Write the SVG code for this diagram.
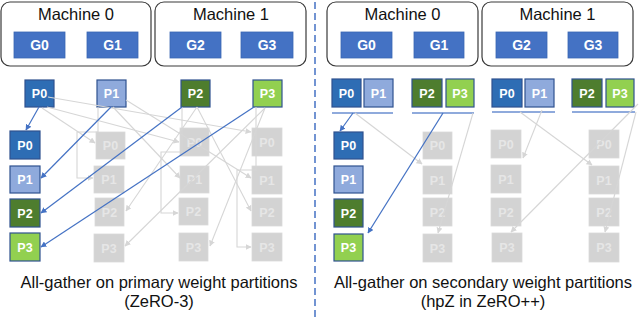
<svg xmlns="http://www.w3.org/2000/svg" width="640" height="317" viewBox="0 0 640 317">
<defs>
<style>
.mach{fill:#fff;stroke:#3a3a3a;stroke-width:1.2}
.mlab{font-family:"Liberation Sans",Arial,sans-serif;font-size:16.5px;fill:#111;text-anchor:middle}
.g{fill:#4472C4;stroke:#3b66b3;stroke-width:0.8}
.glab{font-family:"Liberation Sans",Arial,sans-serif;font-size:14px;font-weight:bold;fill:#fff;text-anchor:middle}
.plab{font-family:"Liberation Sans",Arial,sans-serif;font-size:12.5px;font-weight:bold;fill:#fff;text-anchor:middle}
.glab2{font-family:"Liberation Sans",Arial,sans-serif;font-size:12.5px;font-weight:bold;fill:#e6e6e6;text-anchor:middle}
.p0{fill:#2E6DB4;stroke:#2F528F;stroke-width:1.2}
.p1{fill:#8FAADC;stroke:#2F528F;stroke-width:1.2}
.p2{fill:#4E7D2E;stroke:#2F528F;stroke-width:1.2}
.p3{fill:#92D050;stroke:#2F528F;stroke-width:1.2}
.gr{fill:#d3d3d3;stroke:#dadada;stroke-width:0.8}
.gl{fill:none;stroke:#d6d6d6;stroke-width:1.1;marker-end:url(#ag)}
.bl{fill:none;stroke:#4472C4;stroke-width:1.2;marker-end:url(#ab)}
.ul{stroke:#8FAADC;stroke-width:2}
.cap{font-family:"Liberation Sans",Arial,sans-serif;font-size:16.5px;fill:#111;text-anchor:middle}
</style>
<marker id="ag" viewBox="0 0 10 10" refX="9" refY="5" markerWidth="6" markerHeight="6" orient="auto" markerUnits="userSpaceOnUse"><path d="M0,0L10,5L0,10z" fill="#d6d6d6"/></marker>
<marker id="ab" viewBox="0 0 10 10" refX="9" refY="5" markerWidth="6" markerHeight="6" orient="auto" markerUnits="userSpaceOnUse"><path d="M0,0L10,5L0,10z" fill="#4472C4"/></marker>
</defs>
<rect width="640" height="317" fill="#fff"/>
<line x1="315" y1="2" x2="315" y2="317" stroke="#4472C4" stroke-width="1.5" stroke-dasharray="7,4"/>

<!-- Left half: machines -->
<g id="machine0-left"><rect class="mach" x="1" y="2" width="150" height="64" rx="9"/><text class="mlab" x="76" y="20">Machine 0</text></g>
<g id="machine1-left"><rect class="mach" x="155" y="2" width="151" height="64" rx="9"/><text class="mlab" x="231" y="20">Machine 1</text></g>
<g id="g0-left"><rect class="g" x="14" y="32" width="51" height="26"/><text class="glab" x="39.5" y="50">G0</text></g>
<g id="g1-left"><rect class="g" x="87" y="32" width="51" height="26"/><text class="glab" x="112.5" y="50">G1</text></g>
<g id="g2-left"><rect class="g" x="170" y="32" width="51" height="26"/><text class="glab" x="195.5" y="50">G2</text></g>
<g id="g3-left"><rect class="g" x="241" y="32" width="52" height="26"/><text class="glab" x="267" y="50">G3</text></g>

<!-- Left half: top partitions -->
<g id="lt-p0"><rect class="p0" x="25" y="80" width="29" height="27"/><text class="plab" x="39.5" y="98">P0</text></g>
<g id="lt-p1"><rect class="p1" x="97" y="80" width="29" height="27"/><text class="plab" x="111.5" y="98">P1</text></g>
<g id="lt-p2"><rect class="p2" x="181" y="80" width="29" height="27"/><text class="plab" x="195.5" y="98">P2</text></g>
<g id="lt-p3"><rect class="p3" x="253" y="80" width="29" height="27"/><text class="plab" x="267.5" y="98">P3</text></g>

<!-- Left half: gathered column -->
<g id="lc-p0"><rect class="p0" x="10" y="131" width="30" height="28"/><text class="plab" x="25" y="149.5">P0</text></g>
<g id="lc-p1"><rect class="p1" x="10" y="166" width="30" height="27"/><text class="plab" x="25" y="184">P1</text></g>
<g id="lc-p2"><rect class="p2" x="10" y="199" width="30" height="28"/><text class="plab" x="25" y="217.5">P2</text></g>
<g id="lc-p3"><rect class="p3" x="10" y="233" width="30" height="28"/><text class="plab" x="25" y="251.5">P3</text></g>

<!-- Left half: grey columns -->
<g id="l1-p0"><rect class="gr" x="96" y="132" width="29" height="27"/><text class="glab2" x="110.5" y="150">P0</text></g>
<g id="l1-p1"><rect class="gr" x="94" y="166" width="30" height="27"/><text class="glab2" x="109" y="184">P1</text></g>
<g id="l1-p2"><rect class="gr" x="95" y="198" width="29" height="28"/><text class="glab2" x="109.5" y="216.5">P2</text></g>
<g id="l1-p3"><rect class="gr" x="94" y="234" width="30" height="28"/><text class="glab2" x="109" y="252.5">P3</text></g>
<g id="l2-p0"><rect class="gr" x="180" y="128" width="29" height="28"/><text class="glab2" x="194.5" y="146.5">P0</text></g>
<g id="l2-p1"><rect class="gr" x="180" y="166" width="29" height="27"/><text class="glab2" x="194.5" y="184">P1</text></g>
<g id="l2-p2"><rect class="gr" x="179" y="198" width="29" height="27"/><text class="glab2" x="193.5" y="216">P2</text></g>
<g id="l2-p3"><rect class="gr" x="179" y="233" width="29" height="28"/><text class="glab2" x="193.5" y="251.5">P3</text></g>
<g id="l3-p0"><rect class="gr" x="252" y="128" width="30" height="28"/><text class="glab2" x="267" y="146.5">P0</text></g>
<g id="l3-p1"><rect class="gr" x="252" y="166" width="30" height="28"/><text class="glab2" x="267" y="184.5">P1</text></g>
<g id="l3-p2"><rect class="gr" x="252" y="198" width="30" height="28"/><text class="glab2" x="267" y="216.5">P2</text></g>
<g id="l3-p3"><rect class="gr" x="252" y="233" width="30" height="28"/><text class="glab2" x="267" y="251.5">P3</text></g>

<!-- Right half: machines -->
<g id="machine0-right"><rect class="mach" x="327" y="2" width="151" height="64" rx="9"/><text class="mlab" x="402.5" y="20">Machine 0</text></g>
<g id="machine1-right"><rect class="mach" x="482" y="2" width="151" height="64" rx="9"/><text class="mlab" x="557.5" y="20">Machine 1</text></g>
<g id="g0-right"><rect class="g" x="341" y="32" width="51" height="26"/><text class="glab" x="366.5" y="50">G0</text></g>
<g id="g1-right"><rect class="g" x="414" y="32" width="50" height="26"/><text class="glab" x="439" y="50">G1</text></g>
<g id="g2-right"><rect class="g" x="496" y="32" width="51" height="26"/><text class="glab" x="521.5" y="50">G2</text></g>
<g id="g3-right"><rect class="g" x="568" y="32" width="50" height="26"/><text class="glab" x="593" y="50">G3</text></g>

<!-- Right half: top secondary partitions -->
<g id="rt-a"><rect class="p0" x="332" y="79" width="29" height="28"/><text class="plab" x="346.5" y="97.5">P0</text><rect class="p1" x="364" y="79" width="29" height="28"/><text class="plab" x="378.5" y="97.5">P1</text><line class="ul" x1="332" y1="113" x2="393" y2="113"/></g>
<g id="rt-b"><rect class="p2" x="412" y="79" width="30" height="28"/><text class="plab" x="427" y="97.5">P2</text><rect class="p3" x="446" y="79" width="28" height="28"/><text class="plab" x="460" y="97.5">P3</text><line class="ul" x1="412" y1="113" x2="474" y2="113"/></g>
<g id="rt-c"><rect class="p0" x="492" y="79" width="30" height="28"/><text class="plab" x="507" y="97.5">P0</text><rect class="p1" x="525" y="79" width="29" height="28"/><text class="plab" x="539.5" y="97.5">P1</text><line class="ul" x1="492" y1="112" x2="555" y2="112"/></g>
<g id="rt-d"><rect class="p2" x="572" y="79" width="30" height="28"/><text class="plab" x="587" y="97.5">P2</text><rect class="p3" x="606" y="79" width="28" height="28"/><text class="plab" x="620" y="97.5">P3</text><line class="ul" x1="572" y1="112" x2="635" y2="112"/></g>

<!-- Right half: gathered column -->
<g id="rc-p0"><rect class="p0" x="334" y="132" width="29" height="27"/><text class="plab" x="348.5" y="150">P0</text></g>
<g id="rc-p1"><rect class="p1" x="334" y="166" width="29" height="27"/><text class="plab" x="348.5" y="184">P1</text></g>
<g id="rc-p2"><rect class="p2" x="334" y="199" width="29" height="28"/><text class="plab" x="348.5" y="217.5">P2</text></g>
<g id="rc-p3"><rect class="p3" x="334" y="234" width="29" height="27"/><text class="plab" x="348.5" y="252">P3</text></g>

<!-- Right half: grey columns -->
<g id="r1-p0"><rect class="gr" x="423" y="132" width="29" height="27"/><text class="glab2" x="437.5" y="150">P0</text></g>
<g id="r1-p1"><rect class="gr" x="423" y="166" width="29" height="28"/><text class="glab2" x="437.5" y="184.5">P1</text></g>
<g id="r1-p2"><rect class="gr" x="423" y="198" width="29" height="28"/><text class="glab2" x="437.5" y="216.5">P2</text></g>
<g id="r1-p3"><rect class="gr" x="423" y="234" width="29" height="28"/><text class="glab2" x="437.5" y="252.5">P3</text></g>
<g id="r2-p0"><rect class="gr" x="491" y="130" width="30" height="28"/><text class="glab2" x="506" y="148.5">P0</text></g>
<g id="r2-p1"><rect class="gr" x="491" y="165" width="30" height="28"/><text class="glab2" x="506" y="183.5">P1</text></g>
<g id="r2-p2"><rect class="gr" x="491" y="198" width="30" height="28"/><text class="glab2" x="506" y="216.5">P2</text></g>
<g id="r2-p3"><rect class="gr" x="492" y="233" width="30" height="29"/><text class="glab2" x="507" y="252">P3</text></g>
<g id="r3-p0"><rect class="gr" x="589" y="130" width="30" height="28"/><text class="glab2" x="604" y="148.5">P0</text></g>
<g id="r3-p1"><rect class="gr" x="589" y="166" width="30" height="28"/><text class="glab2" x="604" y="184.5">P1</text></g>
<g id="r3-p2"><rect class="gr" x="589" y="198" width="30" height="28"/><text class="glab2" x="604" y="216.5">P2</text></g>
<g id="r3-p3"><rect class="gr" x="589" y="233" width="30" height="29"/><text class="glab2" x="604" y="252">P3</text></g>

<!-- Connectors -->
<g id="connectors">
<polyline class="gl" points="48,97 251,132"/>
<polyline class="gl" points="47,107 179,142"/>
<polyline class="gl" points="42,108 95,143"/>
<polyline class="gl" points="98,107 98,132 77,132 77,178 93,178"/>
<polyline class="gl" points="113,107 180,178"/>
<polyline class="gl" points="126,100 251,178"/>
<polyline class="gl" points="197,107 126,211"/>
<polyline class="gl" points="182,107 182,152 161,152 161,213 178,213"/>
<polyline class="gl" points="197,107 251,211"/>
<polyline class="gl" points="265,108 125,246"/>
<polyline class="gl" points="265,108 210,246"/>
<polyline class="gl" points="256,107 256,170 237,170 237,247 251,247"/>
<polyline class="bl" points="39,107 26,130"/>
<polyline class="bl" points="111,107 41,178"/>
<polyline class="bl" points="182,107 41,213"/>
<polyline class="bl" points="254,107 41,247"/>

<polyline class="gl" points="355,113 422,164"/>
<polyline class="gl" points="473,113 438,233"/>
<polyline class="gl" points="542,110 523,158"/>
<polyline class="gl" points="520,112 592,165"/>
<polyline class="gl" points="638,104 511,232"/>
<polyline class="gl" points="636,112 605,232"/>
<polyline class="bl" points="353,113 340,131"/>
<polyline class="bl" points="443,113 368,233"/>
</g>

<g id="captions">
<text class="cap" x="159" y="288">All-gather on primary weight partitions</text>
<text class="cap" x="159" y="307">(ZeRO-3)</text>
<text class="cap" x="483" y="288">All-gather on secondary weight partitions</text>
<text class="cap" x="483" y="307">(hpZ in ZeRO++)</text>
</g>
</svg>
